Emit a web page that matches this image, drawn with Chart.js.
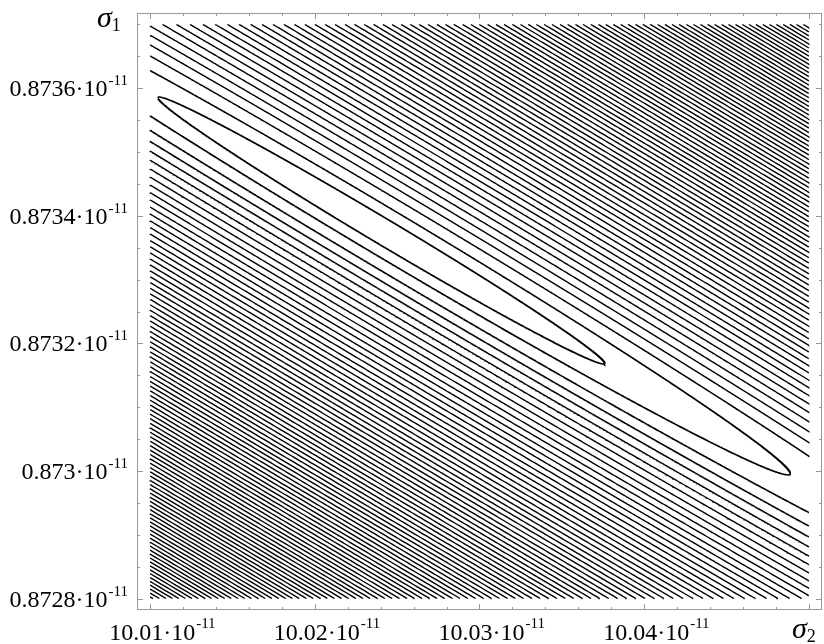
<!DOCTYPE html>
<html><head><meta charset="utf-8">
<script src="https://cdn.jsdelivr.net/npm/chart.js@4.4.1/dist/chart.umd.min.js"></script>
<style>html,body{margin:0;padding:0;background:#fff}#wrap{width:824px;height:644px}
.fl{position:absolute;left:-999px;top:0;font-family:"Liberation Serif";}</style>
</head><body><span class="fl">0.8736·10 <i>σ</i></span><div id="wrap"><canvas id="c" width="824" height="644"></canvas></div>
<script>
// ---- axis data (values in units of 10^-11) ----
const xMajorTicks = [10.01, 10.02, 10.03, 10.04, 10.05];
const xTickLabels = ['10.01', '10.02', '10.03', '10.04', null]; // last one shows the axis name
const xMinorTicks = [10.012, 10.014, 10.016, 10.018, 10.022, 10.024, 10.026, 10.028,
                     10.032, 10.034, 10.036, 10.038, 10.042, 10.044, 10.046, 10.048];
const yMajorTicks = [0.8728, 0.8730, 0.8732, 0.8734, 0.8736];
const yTickLabels = ['0.8728', '0.873', '0.8732', '0.8734', '0.8736'];
const yMinorTicks = [0.87285, 0.87290, 0.87295, 0.87305, 0.87310, 0.87315, 0.87325, 0.87330,
                     0.87335, 0.87345, 0.87350, 0.87355, 0.87365, 0.87370];
const xAxisName = ['σ', '2'];
const yAxisName = ['σ', '1'];

// plotted region of the contour map and the framed range around it
const domainSigma2 = [10.01, 10.05];
const domainSigma1 = [0.8728, 0.8737];
const frameSigma2 = [10.0092, 10.0508];
const frameSigma1 = [0.872782, 0.873718];

// the valley: centre and the two semi-axes of the innermost contour (sigma2, sigma1)
const valleyCentre = [10.02405, 0.873377];
const majorSemiAxis = [0.013566, -0.00020863];
const minorSemiAxis = [-0.000394, -0.00001752];

// size of each drawn contour relative to the innermost one
const contourScales = [1.00,1.83,2.68,3.37,3.99,4.58,5.15,5.68,6.20,6.70,7.18,7.65,8.11,8.56,9.00,
  9.43,9.86,10.27,10.68,11.08,11.48,11.87,12.26,12.64,13.02,13.39,13.76,14.12,14.48,14.84,15.19,
  15.54,15.89,16.23,16.57,16.91,17.24,17.57,17.90,18.23,18.55,18.88,19.20,19.51,19.83,20.14,20.45,
  20.77,21.07,21.38,21.68,21.99,22.29,22.58,22.88,23.18,23.47,23.77,24.06,24.35,24.64,24.93,25.21,
  25.49,25.78,26.06,26.34,26.62,26.90,27.18,27.45,27.73,28.00,28.27,28.54,28.81,29.08,29.35,29.62,
  29.89,30.15,30.42,30.68,30.94,31.20,31.46,31.73,31.98,32.24,32.50,32.75,33.01,33.27,33.52,33.78];

// ---- build contour polylines (ellipse of each scale, clipped to the plotted region) ----
function pointAt(s, th) {
  const c = Math.cos(th), sn = Math.sin(th);
  return [valleyCentre[0] + s * (c * majorSemiAxis[0] + sn * minorSemiAxis[0]),
          valleyCentre[1] + s * (c * majorSemiAxis[1] + sn * minorSemiAxis[1])];
}
function inside(p) {
  return p[0] >= domainSigma2[0] && p[0] <= domainSigma2[1] && p[1] >= domainSigma1[0] && p[1] <= domainSigma1[1];
}
function edgePoint(s, tIn, tOut) {
  for (let i = 0; i < 40; i++) {
    const m = (tIn + tOut) / 2;
    if (inside(pointAt(s, m))) tIn = m; else tOut = m;
  }
  const p = pointAt(s, tIn);
  return [Math.min(Math.max(p[0], domainSigma2[0]), domainSigma2[1]),
          Math.min(Math.max(p[1], domainSigma1[0]), domainSigma1[1])];
}
function contourSegments(s) {
  const N = 8000, step = 2 * Math.PI / N;
  let start = -1;
  for (let i = 0; i < N; i++) { if (!inside(pointAt(s, i * step))) { start = i; break; } }
  if (start < 0) {
    const ring = [];
    for (let i = 0; i <= N; i++) ring.push(pointAt(s, i * step));
    return [ring];
  }
  const segs = [];
  let cur = null, prevTh = start * step, prevIn = false;
  for (let i = 1; i <= N; i++) {
    const th = (start + i) * step, p = pointAt(s, th), isIn = inside(p);
    if (isIn && !prevIn) { cur = [edgePoint(s, th, prevTh), p]; }
    else if (isIn && prevIn) { cur.push(p); }
    else if (!isIn && prevIn) { cur.push(edgePoint(s, prevTh, th)); segs.push(cur); cur = null; }
    prevTh = th; prevIn = isIn;
  }
  return segs;
}

const datasets = [];
contourScales.forEach(s => {
  contourSegments(s).forEach(seg => {
    datasets.push({
      data: seg.map(p => ({ x: p[0], y: p[1] })),
      showLine: true, pointRadius: 0, borderColor: '#000', borderWidth: 1.4,
      fill: false, tension: 0, parsing: false, normalized: true
    });
  });
});

// ---- frame, inward ticks and labels ----
const SERIF = '"Liberation Serif", serif';
const framePlugin = {
  id: 'frame',
  afterDraw(chart) {
    const ctx = chart.ctx, a = chart.chartArea, xs = chart.scales.x, ys = chart.scales.y;
    ctx.save();
    ctx.strokeStyle = '#999999'; ctx.lineWidth = 1;
    ctx.strokeRect(Math.round(a.left) + 0.5, Math.round(a.top) + 0.5,
                   Math.round(a.right - a.left) - 1, Math.round(a.bottom - a.top) - 1);
    const tick = (vals, len, horiz) => {
      vals.forEach(v => {
        ctx.beginPath();
        if (horiz) {
          const px = Math.round(xs.getPixelForValue(v)) + 0.5;
          ctx.moveTo(px, a.bottom); ctx.lineTo(px, a.bottom - len);
          ctx.moveTo(px, a.top); ctx.lineTo(px, a.top + len);
        } else {
          const py = Math.round(ys.getPixelForValue(v)) + 0.5;
          ctx.moveTo(a.left, py); ctx.lineTo(a.left + len, py);
          ctx.moveTo(a.right, py); ctx.lineTo(a.right - len, py);
        }
        ctx.stroke();
      });
    };
    tick(xMajorTicks, 6, true); tick(xMinorTicks, 3, true);
    tick(yMajorTicks, 6, false); tick(yMinorTicks, 3, false);

    const mainFont = '24px ' + SERIF, supFont = '15px ' + SERIF;
    ctx.fillStyle = '#000'; ctx.textBaseline = 'alphabetic'; ctx.textAlign = 'left';
    // x labels
    xMajorTicks.forEach((v, i) => {
      const lab = xTickLabels[i]; if (!lab) return;
      const px = xs.getPixelForValue(v);
      const main = lab + '·10';
      ctx.font = mainFont; const wm = ctx.measureText(main).width;
      const x0 = px - wm / 2 + 2;
      ctx.fillText(main, x0, a.bottom + 30);
      ctx.font = supFont; ctx.fillText('-11', x0 + wm + 1, a.bottom + 18);
    });
    // y labels
    yMajorTicks.forEach((v, i) => {
      const py = ys.getPixelForValue(v);
      const main = yTickLabels[i] + '·10';
      ctx.font = mainFont; const wm = ctx.measureText(main).width;
      ctx.font = supFont; const ws = ctx.measureText('-11').width;
      const x0 = a.left - 9 - ws - 1 - wm;
      ctx.font = mainFont; ctx.fillText(main, x0, py + 8);
      ctx.font = supFont; ctx.fillText('-11', x0 + wm + 1, py - 3);
    });
    // axis names
    const name = (parts, x, y) => {
      ctx.font = 'italic 30px ' + SERIF; ctx.fillText(parts[0], x, y);
      const w = ctx.measureText(parts[0]).width;
      ctx.font = '18px ' + SERIF; ctx.fillText(parts[1], x + w, y + 4);
    };
    name(yAxisName, a.left - 40, a.top + 14);
    name(xAxisName, a.right - 30, a.bottom + 28);
    ctx.restore();
  }
};

function draw() {
  new Chart(document.getElementById('c'), {
    type: 'scatter',
    data: { datasets },
    options: {
      animation: false, responsive: false, devicePixelRatio: 1,
      layout: { padding: { left: 137, right: 2, top: 13, bottom: 34 } },
      plugins: { legend: { display: false }, tooltip: { enabled: false } },
      scales: {
        x: { type: 'linear', min: frameSigma2[0], max: frameSigma2[1], display: false },
        y: { type: 'linear', min: frameSigma1[0], max: frameSigma1[1], display: false }
      }
    },
    plugins: [framePlugin]
  });
}
Promise.all([
  document.fonts.load('24px "Liberation Serif"'),
  document.fonts.load('italic 30px "Liberation Serif"')
]).then(draw, draw);
</script></body></html>
